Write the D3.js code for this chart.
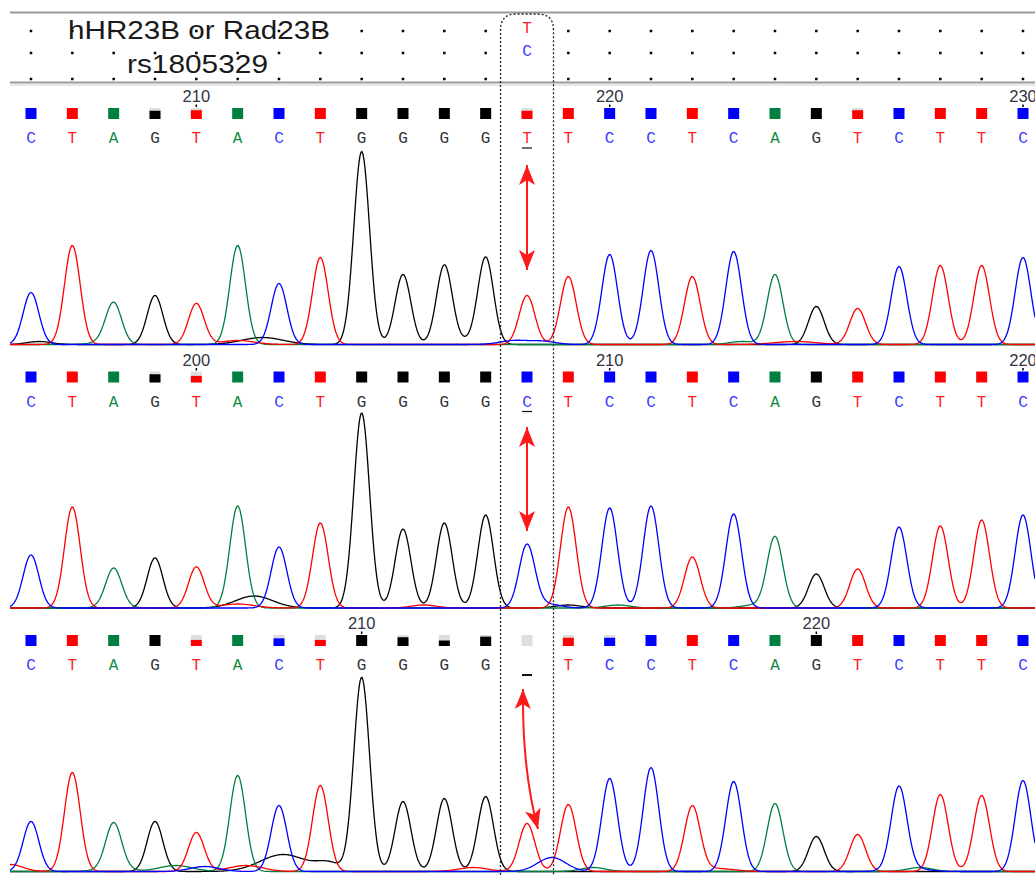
<!DOCTYPE html>
<html>
<head>
<meta charset="utf-8">
<script src="https://cdn.jsdelivr.net/npm/d3@7"></script>
<style>
  body { margin: 0; background: #fff; }
  svg { display: block; }
</style>
</head>
<body>
<script>
let width = 1035
let height = 875

// base calls for the three reads (index 12 is the SNP rs1805329)
const seq1 = "CTAGTACTGGGGTTCCTCAGTCTTC".split("")
const seq2 = "CTAGTACTGGGGCTCCTCAGTCTTC".split("")
const seq3 = "CTAGTACTGGGG-TCCTCAGTCTTC".split("")
// channel of the main peak under each base
const peakCh3 = "CTAGTACTGGGGTTCCTCAGTCTTC".split("")

// main peak heights (signal units)
const peaks1 = [52, 99, 40, 49, 41, 99, 61, 87, 193, 70, 79, 87, 49, 68, 90, 94, 68, 93, 70, 38, 36, 78, 79, 79, 87]
const peaks2 = [53, 101, 37, 50, 41, 102, 61, 85, 195, 79, 85, 93, 63, 101, 100, 102, 51, 94, 71, 34, 39, 81, 82, 88, 93]
const peaks3 = [50, 99, 45, 50, 39, 96, 66, 86, 194, 70, 73, 75, 48, 67, 93, 104, 65, 90, 68, 35, 37, 82, 77, 76, 91]

// quality bar fill (1 = full square)
const qual1 = [1, 1, 1, 0.75, 0.8, 1, 1, 1, 1, 1, 1, 1, 0.75, 1, 1, 1, 1, 1, 1, 1, 0.8, 1, 1, 1, 1]
const qual2 = [1, 1, 1, 0.75, 0.6, 1, 1, 1, 1, 1, 1, 1, 1, 1, 1, 1, 1, 1, 1, 1, 1, 1, 1, 1, 1]
const qual3 = [1, 1, 1, 1, 0.55, 1, 0.7, 0.55, 1, 0.8, 0.5, 0.85, 0, 0.75, 0.75, 1, 1, 1, 1, 1, 1, 1, 1, 1, 1]

// minor background peaks: [channel, base position, height, width]
const minor1 = [["G", 5.6, 7, 0.5], ["T", 5.0, 4, 0.4], ["A", 1.8, 3, 0.3], ["C", 11.7, 4, 0.35],
  ["C", 12.4, 3, 0.3], ["T", 18.5, 3, 0.5], ["A", 17.2, 3, 0.3], ["G", 0.2, 3, 0.3], ["G", 10.5, 3, 0.3]]
const minor2 = [["G", 5.4, 12, 0.45], ["T", 5.0, 4, 0.4], ["A", 2.0, 3, 0.3], ["C", 12.5, 4, 0.3],
  ["G", 13.0, 3, 0.3], ["A", 14.2, 3, 0.3], ["T", 9.5, 3, 0.3], ["A", 17.5, 3, 0.3]]
const minor3 = [["T", -0.5, 7, 0.3], ["A", 2.0, 4, 0.35], ["C", 4.2, 5, 0.35], ["A", 3.5, 6, 0.4],
  ["T", 5.2, 6, 0.4], ["G", 6.1, 17, 0.55], ["G", 7.2, 8, 0.3], ["C", 12.6, 14, 0.34],
  ["T", 10.7, 4, 0.35], ["A", 13.6, 4, 0.3], ["C", 21.2, 4, 0.4], ["A", 21.5, 4, 0.3], ["T", 16.6, 3, 0.4]]

// position labels [base index, text]
const ticks1 = [[4, "210"], [14, "220"], [24, "230"]]
const ticks2 = [[4, "200"], [14, "210"], [24, "220"]]
const ticks3 = [[8, "210"], [19, "220"]]

const colors = { A: "#008040", C: "#0000ff", G: "#000000", T: "#ff0000" }
const textColors = { A: "#108a40", C: "#3a3aff", G: "#333333", T: "#ff2020" }

let svg = d3.select("body").append("svg")
  .attr("width", width)
  .attr("height", height)

let x = d3.scaleLinear().domain([0, 24]).range([31, 1023])

let defs = svg.append("defs")
defs.append("marker")
  .attr("id", "head")
  .attr("viewBox", "-2 -10 24 20")
  .attr("markerUnits", "userSpaceOnUse")
  .attr("markerWidth", 24).attr("markerHeight", 20)
  .attr("refX", 20).attr("refY", 0)
  .attr("orient", "auto-start-reverse")
  .append("path")
  .attr("d", "M20,0 L0,-8 L5,0 L0,8 Z")
  .attr("fill", "#ff1a1a")

// header
svg.append("line").attr("x1", 10).attr("x2", width).attr("y1", 12.5).attr("y2", 12.5)
  .attr("stroke", "#9a9a9a").attr("stroke-width", 2)
svg.append("line").attr("x1", 10).attr("x2", width).attr("y1", 82.5).attr("y2", 82.5)
  .attr("stroke", "#9a9a9a").attr("stroke-width", 2)
svg.append("line").attr("x1", 10).attr("x2", width).attr("y1", 85).attr("y2", 85)
  .attr("stroke", "#d0d0d0").attr("stroke-width", 1)

let dotRows = [31, 53, 79]
dotRows.forEach(ry => {
  svg.append("g").selectAll("rect")
    .data(d3.range(25).filter(i => i != 12)).enter()
    .append("rect")
    .attr("x", d => x(d) - 1.25).attr("y", ry - 1.25)
    .attr("width", 2.5).attr("height", 2.5)
    .attr("fill", "#000")
})

svg.append("text").attr("x", 68).attr("y", 39)
  .attr("font-family", "Liberation Sans, Arial, sans-serif")
  .attr("font-size", 26).attr("fill", "#1a1a1a")
  .attr("textLength", 262).attr("lengthAdjust", "spacingAndGlyphs")
  .text("hHR23B or Rad23B")
svg.append("text").attr("x", 127).attr("y", 73)
  .attr("font-family", "Liberation Sans, Arial, sans-serif")
  .attr("font-size", 26).attr("fill", "#1a1a1a")
  .attr("textLength", 141).attr("lengthAdjust", "spacingAndGlyphs")
  .text("rs1805329")

svg.append("text").attr("x", x(12)).attr("y", 33).attr("text-anchor", "middle")
  .attr("font-family", "Liberation Mono, monospace").attr("font-size", 16)
  .attr("fill", textColors.T).text("T")
svg.append("text").attr("x", x(12)).attr("y", 56).attr("text-anchor", "middle")
  .attr("font-family", "Liberation Mono, monospace").attr("font-size", 16)
  .attr("fill", textColors.C).text("C")

function drawPanel(top, seq, peakCh, peaks, qual, minor, ticks) {
  let g = svg.append("g")
  let baseline = top + 260
  let y = d3.scaleLinear().domain([0, 200]).range([baseline, baseline - 200])

  // position labels
  ticks.forEach(t => {
    g.append("text").attr("x", x(t[0])).attr("y", top + 17)
      .attr("text-anchor", "middle")
      .attr("font-family", "Liberation Sans, Arial, sans-serif")
      .attr("font-size", 16.5).attr("fill", "#333344")
      .text(t[1])
    g.append("rect").attr("x", x(t[0]) - 0.75).attr("y", top + 19.5).attr("width", 1.5).attr("height", 2.5)
      .attr("fill", "#000")
  })

  // quality squares
  let sq = 11
  let sqTop = top + 23
  g.selectAll(".bg").data(seq).enter().append("rect")
    .attr("x", (d, i) => x(i) - sq / 2).attr("y", sqTop)
    .attr("width", sq).attr("height", sq)
    .attr("fill", (d, i) => qual[i] < 1 ? "#dedede" : "none")
  g.selectAll(".fg").data(seq).enter().append("rect")
    .attr("x", (d, i) => x(i) - sq / 2)
    .attr("y", (d, i) => sqTop + sq * (1 - qual[i]))
    .attr("width", sq).attr("height", (d, i) => sq * qual[i])
    .attr("fill", d => colors[d] || "#ddd")

  // base letters
  g.selectAll(".base").data(seq).enter().append("text")
    .attr("x", (d, i) => x(i)).attr("y", top + 58)
    .attr("text-anchor", "middle")
    .attr("font-family", "Liberation Mono, monospace")
    .attr("font-size", 16)
    .attr("fill", d => textColors[d] || "#000")
    .text(d => d == "-" ? "" : d)

  // underline of the SNP base
  g.append("line").attr("x1", x(12) - 5).attr("x2", x(12) + 5)
    .attr("y1", top + 63).attr("y2", top + 63)
    .attr("stroke", "#111").attr("stroke-width", seq[12] == "-" ? 2 : 1.2)

  // traces
  let xs = d3.range(10, width + 1, 1)
  let sigma = 0.19
  ;["G", "A", "T", "C"].forEach(ch => {
    let pts = xs.map(px => {
      let b = x.invert(px)
      let v = 0
      peakCh.forEach((c, i) => {
        if (c == ch) v += peaks[i] * Math.exp(-Math.pow(b - i, 2) / (2 * sigma * sigma))
      })
      minor.forEach(m => {
        if (m[0] == ch) v += m[2] * Math.exp(-Math.pow(b - m[1], 2) / (2 * m[3] * m[3]))
      })
      return [px, v]
    })
    g.append("path")
      .datum(pts)
      .attr("fill", "none")
      .attr("stroke", colors[ch])
      .attr("stroke-width", 1.3)
      .attr("d", d3.line().x(d => d[0]).y(d => y(d[1]) - 0.5))
  })
  return baseline
}

let tops = [85, 348.5, 612]
drawPanel(tops[0], seq1, seq1, peaks1, qual1, minor1, ticks1)
drawPanel(tops[1], seq2, seq2, peaks2, qual2, minor2, ticks2)
drawPanel(tops[2], seq3, peakCh3, peaks3, qual3, minor3, ticks3)

// arrows
let ax = x(12)
svg.append("line").attr("x1", ax).attr("x2", ax).attr("y1", 165).attr("y2", 270)
  .attr("stroke", "#ff1a1a").attr("stroke-width", 2)
  .attr("marker-start", "url(#head)").attr("marker-end", "url(#head)")
svg.append("line").attr("x1", ax).attr("x2", ax).attr("y1", 427).attr("y2", 531)
  .attr("stroke", "#ff1a1a").attr("stroke-width", 2)
  .attr("marker-start", "url(#head)").attr("marker-end", "url(#head)")
svg.append("path").attr("d", "M523,689 Q522,770 538,829")
  .attr("fill", "none")
  .attr("stroke", "#ff1a1a").attr("stroke-width", 2)
  .attr("marker-start", "url(#head)").attr("marker-end", "url(#head)")

// dotted box round the SNP column
svg.append("path")
  .attr("d", "M500.5,875 L500.5,30 Q500.5,14 516,14 L538,14 Q553.5,14 553.5,30 L553.5,875")
  .attr("fill", "none")
  .attr("stroke", "#222")
  .attr("stroke-width", 1.3)
  .attr("stroke-dasharray", "2,2")
</script>
</body>
</html>
